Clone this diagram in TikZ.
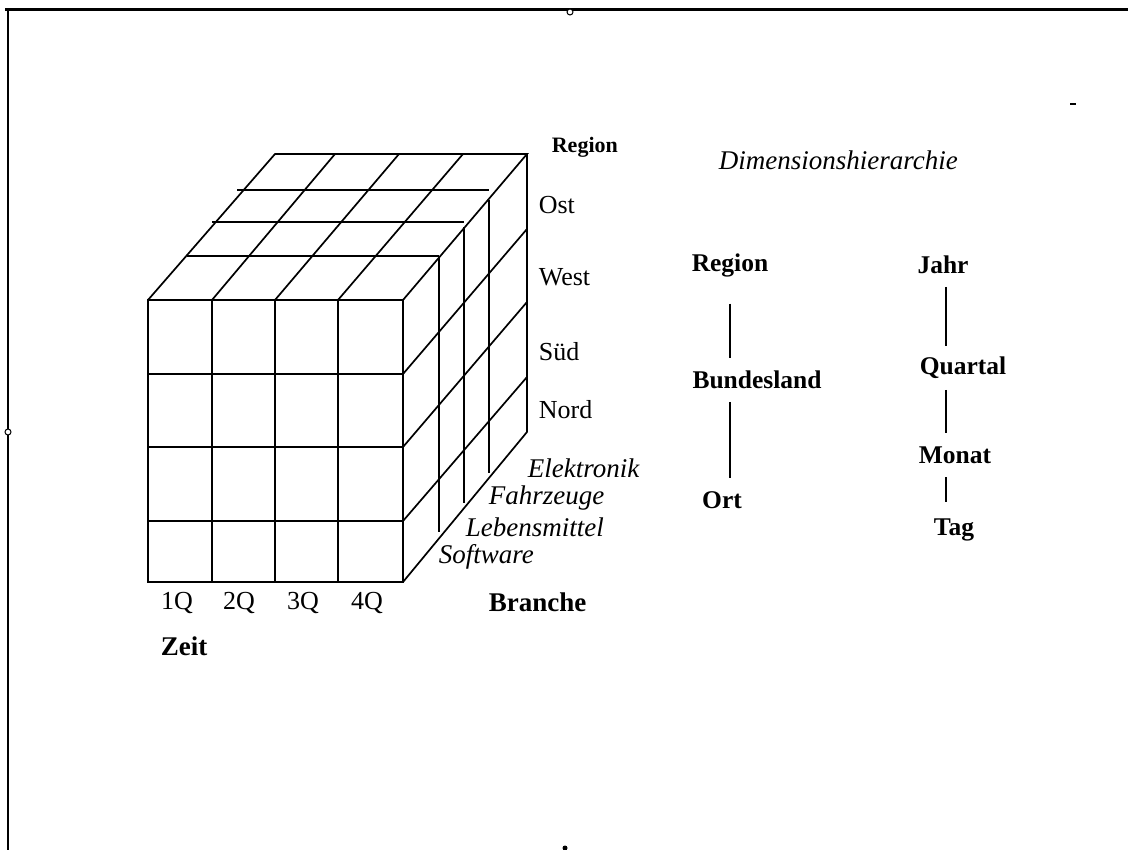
\documentclass[tikz,border=0pt]{standalone}
\usepackage{fontspec}
\setmainfont{Liberation Serif}

\begin{document}
\begin{tikzpicture}[x=1pt,y=-1pt,line width=1.7pt,
  lbl/.style={font=\fontsize{26}{28}\selectfont,inner sep=0pt},
  lblb/.style={lbl,font=\fontsize{27}{28}\selectfont\bfseries},
  lbli/.style={lbl,font=\fontsize{27}{28}\selectfont\itshape},
  hier/.style={lbl,font=\fontsize{25.5}{28}\selectfont\bfseries},
  link/.style={line width=1.4pt,shorten <=22pt,shorten >=22pt}]
\useasboundingbox (0,0) rectangle (1128,850);
% frame with handles
\draw[line width=3pt] (5,10) -- (1128,10);
\draw[line width=1.6pt] (8,11) -- (8,850);
\draw[line width=1pt,fill=white] (570,12) circle (3);
\draw[line width=1pt,fill=white] (8,432) circle (3);
\fill (565,848) circle (2.5);
\draw[line width=2pt] (1070,104) -- (1076,104);
% cube: front face
\draw (148,300) rectangle (403,582);
\draw (212,300) -- (212,582) (275,300) -- (275,582) (338,300) -- (338,582);
\draw (148,374) -- (403,374) (148,447) -- (403,447) (148,521) -- (403,521);
% cube: top face
\draw (148,300) -- (275,154) -- (527,154) -- (403,300);
\draw (212,300) -- (335,154) (275,300) -- (399,154) (338,300) -- (463,154);
\draw (187,256) -- (439,256) (212,222) -- (464,222) (237,190) -- (489,190);
% cube: right face
\draw (527,154) -- (527,432) -- (403,582);
\draw (439,256) -- (439,532) (464,227) -- (464,503) (489,200) -- (489,473);
\draw (403,374) -- (527,229) (403,447) -- (527,302) (403,521) -- (527,377);
% axis labels
\node[lblb,font=\fontsize{22}{24}\selectfont\bfseries,anchor=west] (regax) at (551,147) {Region};
\node[lbl,anchor=west] (ost) at (538,205) {Ost};
\node[lbl,anchor=west] (west) at (538,277) {West};
\node[lbl,anchor=west] (sued) at (538,352) {Süd};
\node[lbl,anchor=west] (nord) at (538,410) {Nord};
\node[lbli,anchor=west] (elek) at (527,468) {Elektronik};
\node[lbli,anchor=west] (fahr) at (488,498) {Fahrzeuge};
\node[lbli,anchor=west] (lebm) at (465,527) {Lebensmittel};
\node[lbli,anchor=west] (soft) at (438,557) {Software};
\node[lblb,anchor=west] (branche) at (488,602) {Branche};
\node[lbl] (q1) at (177,603) {1Q};
\node[lbl] (q2) at (239,603) {2Q};
\node[lbl] (q3) at (303,603) {3Q};
\node[lbl] (q4) at (367,603) {4Q};
\node[lblb,anchor=west] (zeit) at (160,646) {Zeit};
% dimension hierarchies
\node[lbli,anchor=west] (title) at (718,160) {Dimensionshierarchie};
\node[hier] (reg) at (730,265) {Region};
\node[hier] (bund) at (757,380) {Bundesland};
\node[hier] (ort) at (722,500) {Ort};
\node[hier] (jahr) at (943,265) {Jahr};
\node[hier] (quartal) at (963,368) {Quartal};
\node[hier] (monat) at (955,455) {Monat};
\node[hier] (tag) at (954,530) {Tag};
\draw[link,shorten <=26pt] (reg) -- (reg |- bund);
\draw[link] (reg |- bund) -- (reg |- ort);
\draw[link] ([xshift=3pt]jahr.center) -- ([xshift=3pt]jahr.center |- quartal);
\draw[link] ([xshift=3pt]jahr.center |- quartal) -- ([xshift=3pt]jahr.center |- monat);
\draw[link,shorten >=28pt] ([xshift=3pt]jahr.center |- monat) -- ([xshift=3pt]jahr.center |- tag);
\end{tikzpicture}
\end{document}
